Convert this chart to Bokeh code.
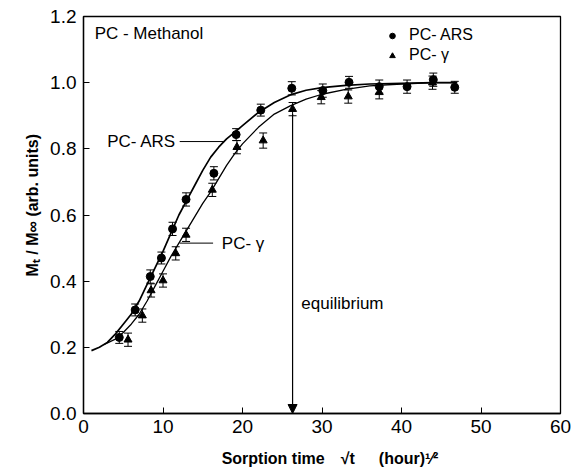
from bokeh.plotting import figure
from bokeh.models import (ColumnDataSource, Whisker, TeeHead, Label, Arrow, NormalHead,
                          Legend, LegendItem, FixedTicker, PrintfTickFormatter, Range1d)
from bokeh.embed import file_html
from bokeh.resources import INLINE

# ---------------- data ----------------
ars_x = [4.5, 6.5, 8.4, 9.8, 11.2, 12.9, 16.4, 19.2, 22.3, 26.2, 30.1, 33.4, 37.2, 40.7, 44.0, 46.7]
ars_y = [0.230, 0.313, 0.414, 0.470, 0.558, 0.647, 0.726, 0.843, 0.917, 0.983, 0.976, 1.001, 0.988, 0.988, 1.009, 0.986]
ars_err = [0.018, 0.018, 0.02, 0.018, 0.02, 0.02, 0.02, 0.018, 0.018, 0.02, 0.02, 0.018, 0.02, 0.02, 0.02, 0.018]

gam_x = [5.6, 7.4, 8.5, 10.0, 11.6, 12.9, 16.2, 19.3, 22.6, 26.3, 29.9, 33.3, 37.2, 43.9]
gam_y = [0.223, 0.296, 0.372, 0.402, 0.484, 0.540, 0.676, 0.805, 0.825, 0.920, 0.956, 0.958, 0.971, 1.000]
gam_err = [0.02, 0.02, 0.02, 0.02, 0.02, 0.02, 0.02, 0.02, 0.023, 0.02, 0.02, 0.02, 0.02, 0.02]

ars_curve_x = [1, 2, 3, 4, 5, 6, 7, 8, 9, 10, 11, 12, 13, 14, 15, 16, 17, 18, 19, 20,
               22, 24, 26, 28, 30, 33, 36, 40, 44, 47]
ars_curve_y = [0.190, 0.200, 0.215, 0.240, 0.270, 0.300, 0.340, 0.390, 0.440, 0.490, 0.545,
               0.600, 0.645, 0.690, 0.735, 0.775, 0.805, 0.830, 0.850, 0.870,
               0.910, 0.940, 0.963, 0.977, 0.985, 0.992, 0.996, 0.998, 1.000, 1.000]

gam_curve_x = [2.5, 4, 5, 6, 7, 8, 9, 10, 11, 12, 13, 14, 15, 16, 17, 18, 19, 20,
               22, 24, 26, 28, 30, 33, 36, 40, 44, 47]
gam_curve_y = [0.207, 0.225, 0.245, 0.270, 0.300, 0.340, 0.385, 0.430, 0.475, 0.515, 0.555,
               0.595, 0.635, 0.670, 0.710, 0.750, 0.785, 0.815,
               0.865, 0.905, 0.930, 0.950, 0.965, 0.980, 0.990, 0.996, 1.000, 1.000]

x_ticks = [0, 10, 20, 30, 40, 50, 60]
y_ticks = [0.0, 0.2, 0.4, 0.6, 0.8, 1.0, 1.2]

equilibrium_x = 26.3

FONT = "Liberation Sans"

# ---------------- figure ----------------
p = figure(width=574, height=469, output_backend="svg", toolbar_location=None,
           x_range=Range1d(0, 60), y_range=Range1d(0, 1.2),
           min_border_left=83, min_border_right=14, min_border_top=16, min_border_bottom=56)
p.grid.visible = False
p.background_fill_color = "white"
p.border_fill_color = "white"
p.outline_line_color = "black"
p.outline_line_width = 1.3

for ax in (p.xaxis[0], p.yaxis[0]):
    ax.major_tick_in = 6
    ax.major_tick_out = 0
    ax.minor_tick_line_color = None
    ax.axis_line_color = "black"
    ax.axis_line_width = 1.3
    ax.major_tick_line_color = "black"
    ax.major_label_text_font = FONT
    ax.major_label_text_font_size = "19px"
    ax.major_label_text_color = "black"
    ax.axis_label_text_font = FONT
    ax.axis_label_text_font_style = "bold"
    ax.axis_label_text_font_size = "16px"
    ax.axis_label_text_color = "black"

p.xaxis.ticker = FixedTicker(ticks=x_ticks)
p.yaxis.ticker = FixedTicker(ticks=y_ticks)
p.yaxis.formatter = PrintfTickFormatter(format="%.1f")
p.xaxis.major_label_standoff = 6
p.xaxis.axis_label_standoff = 14
p.yaxis.major_label_standoff = 7
p.yaxis.axis_label_standoff = 6
p.xaxis.axis_label = "\u2003Sorption time\u2003\u221at\u2003\u2002(hour)\u00b9\u2044\u00b2"
p.yaxis.axis_label = "\u2003\u2002M\u209c / M\u221e  (arb. units)"

# ---------------- curves ----------------
p.line(ars_curve_x, ars_curve_y, line_color="black", line_width=1.7)
p.line(gam_curve_x, gam_curve_y, line_color="black", line_width=1.3)

# ---------------- error bars and points ----------------
src_ars = ColumnDataSource(dict(x=ars_x, y=ars_y,
                                lo=[a - e for a, e in zip(ars_y, ars_err)],
                                hi=[a + e for a, e in zip(ars_y, ars_err)]))
src_gam = ColumnDataSource(dict(x=gam_x, y=gam_y,
                                lo=[a - e for a, e in zip(gam_y, gam_err)],
                                hi=[a + e for a, e in zip(gam_y, gam_err)]))

for src in (src_ars, src_gam):
    w = Whisker(source=src, base="x", upper="hi", lower="lo", dimension="height",
                line_color="black", line_width=1,
                upper_head=TeeHead(size=8, line_color="black", line_width=1),
                lower_head=TeeHead(size=8, line_color="black", line_width=1))
    p.add_layout(w)

r_ars = p.scatter("x", "y", source=src_ars, marker="circle", size=8,
                  fill_color="black", line_color="black")
r_gam = p.scatter("x", "y", source=src_gam, marker="triangle", size=8,
                  fill_color="black", line_color="black")

# ---------------- legend ----------------
legend = Legend(items=[LegendItem(label="PC- ARS", renderers=[r_ars]),
                       LegendItem(label="PC- \u03b3", renderers=[r_gam])],
                location=(302, 349), orientation="vertical",
                glyph_width=14, glyph_height=17, label_height=17, spacing=2,
                padding=0, margin=0, label_standoff=10,
                label_text_font=FONT, label_text_font_size="16px",
                label_text_color="black",
                border_line_alpha=0, background_fill_alpha=0)
p.add_layout(legend)

# ---------------- annotations ----------------
def label(x, y, text, align="left", size="17px"):
    p.add_layout(Label(x=x, y=y, text=text, text_font=FONT, text_font_size=size,
                       text_align=align, text_baseline="middle", text_color="black"))

label(1.4, 1.148, "PC - Methanol")
label(11.65, 0.822, "PC- ARS", align="right")
label(17.4, 0.513, "PC- \u03b3")
label(27.4, 0.332, "equilibrium")

p.add_layout(Arrow(end=None, x_start=12.1, y_start=0.822, x_end=17.8, y_end=0.822,
                   line_color="black", line_width=1))
p.add_layout(Arrow(end=None, x_start=12.1, y_start=0.515, x_end=16.3, y_end=0.515,
                   line_color="black", line_width=1))
p.add_layout(Arrow(end=NormalHead(size=9, fill_color="black", line_color="black"),
                   x_start=equilibrium_x, y_start=0.905, x_end=equilibrium_x, y_end=0.0,
                   line_color="black", line_width=1.2))

open("out.html", "w").write(file_html(p, INLINE))
